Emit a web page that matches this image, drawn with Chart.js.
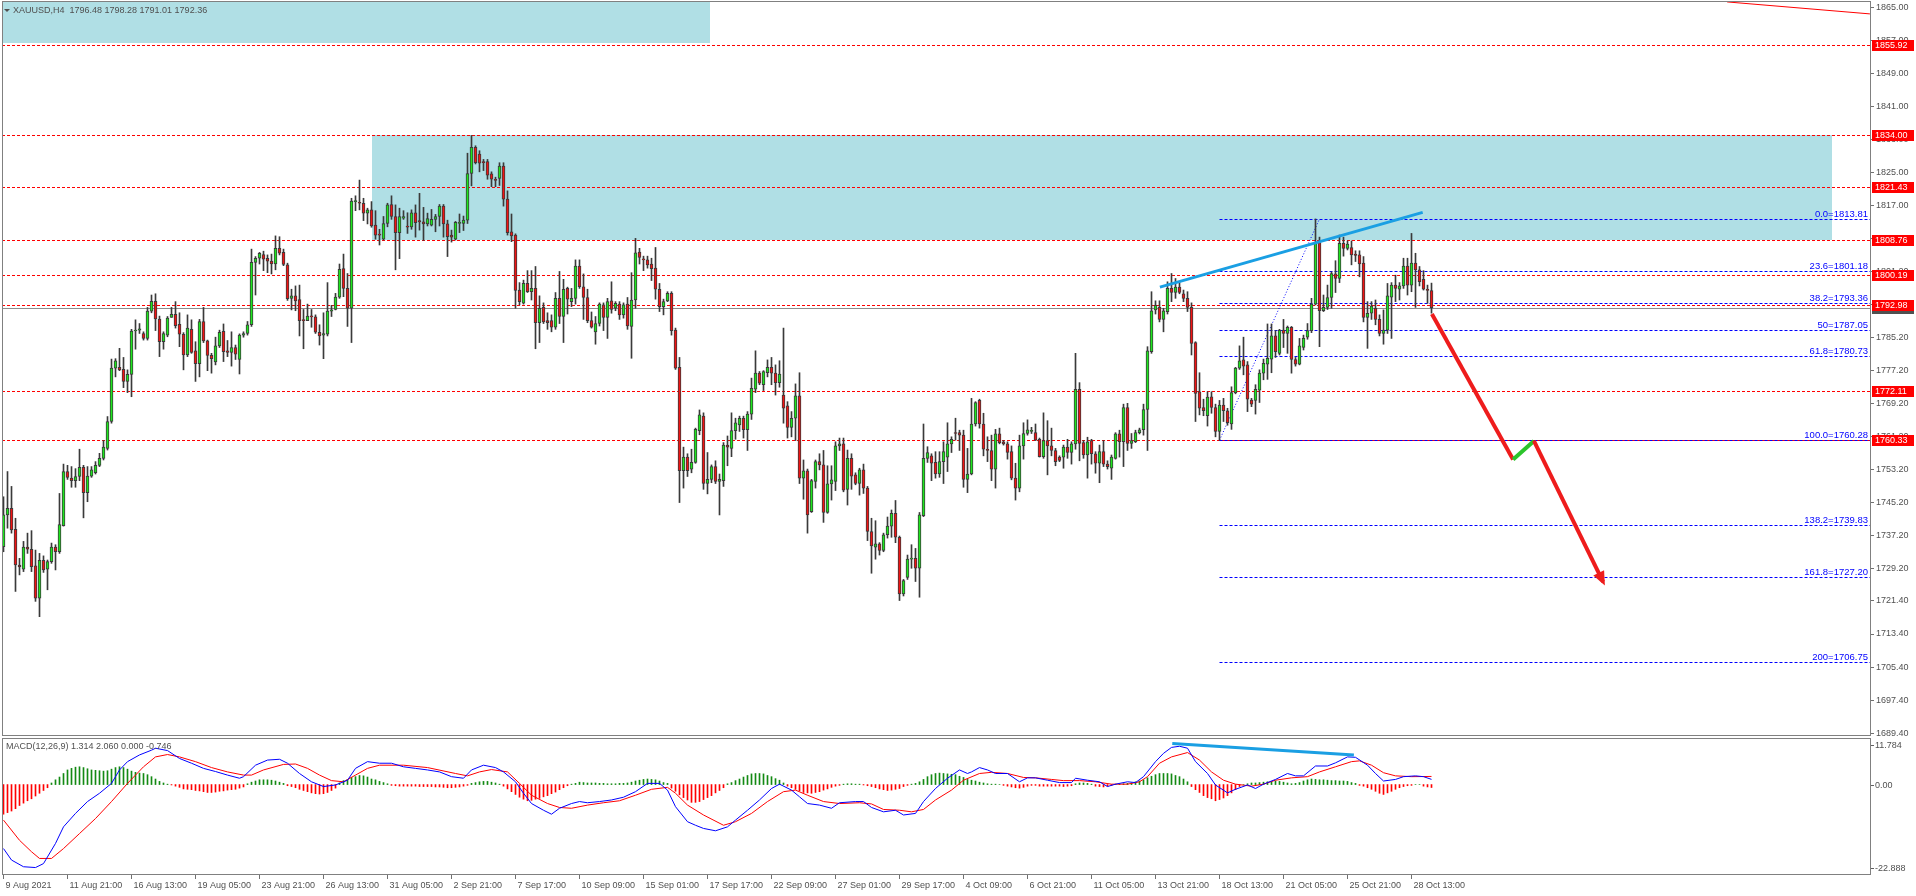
<!DOCTYPE html>
<html>
<head>
<meta charset="utf-8">
<title>XAUUSD,H4</title>
<script src="https://cdn.jsdelivr.net/npm/chart.js@4.4.1/dist/chart.umd.min.js"></script>
<style>
  html, body { margin: 0; padding: 0; background: #fff; overflow: hidden; }
  #wrap { position: relative; width: 1916px; height: 896px; }
  canvas { position: absolute; left: 0; }
  #main { top: 0; }
  #macd { top: 738px; }
</style>
</head>
<body>
<div id="wrap">
  <canvas id="main" width="1916" height="738"></canvas>
  <canvas id="macd" width="1916" height="158"></canvas>
</div>
<script>
// XAUUSD H4 candles + MACD(12,26,9)

// ---------- Data: candles (one per H4 bar, index 0 = 9 Aug 2021) ----------
const opens = [
  1734.5,1742.2,1743.8,1738.7,1730.1,1729.1,1734.4,1733.9,1729.9,1722.1,
  1731.2,1729.1,1730.9,1734.4,1733.3,1739.6,1752.7,1751.1,1750.5,1751.5,
  1753.7,1747.6,1751.6,1752.4,1754.2,1755.9,1758.3,1764.8,1777.7,1777.9,
  1777.4,1774.5,1776.2,1786.7,1786.9,1786.1,1784.9,1791.5,1793.9,1789.6,
  1784.1,1785.7,1790.0,1790.7,1788.3,1785.9,1780.9,1787.1,1781.9,1778.8,
  1789.0,1784.3,1780.8,1779.2,1783.1,1786.6,1781.9,1781.5,1782.7,1779.8,
  1785.7,1786.1,1788.2,1803.3,1804.3,1805.2,1804.3,1803.6,1802.9,1806.7,
  1805.7,1802.7,1794.6,1795.2,1794.3,1789.4,1789.2,1790.3,1790.1,1786.4,
  1785.7,1785.9,1791.5,1791.9,1794.9,1801.8,1797.0,1792.2,1818.0,1817.7,
  1817.6,1815.2,1816.0,1812.3,1810.1,1808.9,1812.7,1817.3,1814.4,1810.5,
  1814.0,1812.1,1811.9,1815.3,1813.4,1813.1,1812.6,1812.3,1813.7,1814.4,
  1816.9,1812.6,1809.9,1808.9,1812.7,1812.7,1813.5,1824.8,1831.1,1829.5,
  1827.7,1827.7,1824.7,1823.4,1823.6,1826.6,1818.6,1810.7,1809.9,1796.6,
  1793.4,1798.2,1796.2,1797.0,1788.7,1792.4,1789.2,1789.2,1787.6,1794.6,
  1790.2,1797.0,1793.8,1794.6,1802.4,1797.4,1794.8,1789.2,1786.5,1788.5,
  1793.0,1790.0,1794.0,1792.2,1793.2,1790.6,1793.2,1787.8,1794.2,1805.8,
  1804.0,1803.9,1802.9,1801.9,1796.8,1792.6,1794.0,1795.8,1786.9,1777.9,
  1752.9,1756.2,1753.3,1754.9,1762.6,1766.1,1749.8,1750.8,1753.9,1750.3,
  1750.5,1759.1,1758.3,1762.6,1764.0,1765.6,1762.8,1766.6,1772.6,1776.5,
  1773.7,1776.6,1777.9,1776.5,1774.2,1771.2,1768.6,1763.4,1765.6,1771.0,
  1751.1,1752.9,1743.0,1750.3,1755.1,1754.3,1742.8,1749.7,1750.3,1758.9,
  1759.4,1748.4,1755.9,1751.9,1749.8,1753.1,1748.7,1738.2,1734.4,1735.2,
  1733.6,1737.4,1739.5,1742.6,1736.8,1723.1,1727.1,1731.5,1731.7,1729.3,
  1742.0,1755.9,1756.5,1754.9,1752.1,1755.1,1756.2,1759.4,1762.1,1762.1,
  1761.5,1750.8,1752.1,1764.2,1769.9,1764.2,1758.1,1757.8,1753.3,1761.8,
  1759.9,1759.4,1757.5,1751.1,1748.7,1758.9,1761.9,1762.4,1762.1,1760.5,
  1756.3,1760.2,1758.9,1757.8,1756.2,1756.2,1758.6,1757.3,1759.4,1772.6,
  1759.7,1756.7,1760.2,1757.0,1754.7,1757.5,1754.5,1753.5,1755.9,1761.8,
  1759.9,1768.2,1759.5,1759.9,1762.1,1762.8,1767.7,1781.7,1791.8,1792.4,
  1789.5,1791.4,1797.0,1796.0,1797.3,1795.7,1794.6,1792.4,1783.9,1772.0,
  1768.2,1766.2,1770.8,1768.2,1762.4,1768.8,1767.4,1764.2,1771.8,1777.7,
  1779.7,1778.5,1770.0,1769.9,1772.4,1776.5,1778.7,1779.9,1785.5,1781.3,
  1786.9,1786.1,1787.6,1779.8,1778.7,1782.7,1785.2,1786.8,1793.2,1808.1,
  1791.6,1792.4,1794.8,1800.5,1799.4,1807.9,1806.7,1806.9,1805.3,1805.1,
  1803.1,1790.0,1791.0,1792.2,1789.5,1786.1,1786.9,1794.9,1797.8,1796.8,
  1797.6,1802.4,1797.8,1803.1,1801.5,1799.2,1796.8,1796.48
];
const highs = [
  1746.6,1752.7,1749.1,1741.4,1731.7,1735.8,1737.8,1738.4,1733.7,1732.9,
  1732.3,1731.3,1735.4,1735.0,1747.4,1754.5,1754.2,1753.9,1753.4,1758.1,
  1754.2,1753.9,1753.9,1755.1,1757.1,1760.2,1766.0,1779.9,1780.0,1782.5,
  1780.3,1777.3,1787.1,1789.4,1788.5,1786.5,1792.4,1795.4,1795.7,1790.3,
  1786.5,1790.2,1792.4,1793.8,1791.1,1786.3,1790.6,1789.4,1784.1,1789.5,
  1792.4,1784.5,1781.3,1785.2,1786.9,1788.4,1784.4,1786.5,1783.3,1786.0,
  1786.5,1789.0,1806.5,1804.7,1805.7,1806.0,1805.1,1805.3,1809.7,1809.5,
  1806.5,1803.1,1796.8,1797.6,1797.8,1791.9,1793.2,1791.9,1790.6,1788.2,
  1791.1,1798.4,1792.9,1795.8,1802.9,1805.3,1800.6,1818.8,1819.4,1823.2,
  1818.8,1816.4,1818.0,1815.8,1811.3,1814.4,1817.6,1819.4,1817.2,1816.4,
  1815.8,1815.3,1816.0,1817.2,1820.0,1816.6,1815.2,1816.1,1814.9,1817.3,
  1817.3,1813.5,1811.1,1813.2,1815.0,1814.5,1829.7,1834.0,1831.5,1830.3,
  1828.2,1828.2,1825.2,1823.9,1827.4,1827.4,1820.6,1815.0,1810.2,1798.4,
  1799.0,1801.3,1801.3,1802.3,1795.2,1793.5,1791.1,1790.6,1796.0,1801.1,
  1799.2,1797.3,1797.0,1803.9,1803.9,1800.5,1796.8,1791.3,1790.2,1793.5,
  1793.5,1794.6,1798.6,1793.8,1793.8,1793.5,1794.8,1800.8,1809.1,1806.7,
  1804.8,1804.8,1804.3,1806.9,1798.2,1794.4,1796.2,1796.2,1787.4,1780.3,
  1758.6,1757.0,1758.1,1763.2,1767.6,1766.9,1757.3,1754.3,1755.3,1752.1,
  1759.7,1761.3,1766.9,1765.6,1766.1,1766.1,1767.2,1775.3,1781.9,1776.9,
  1777.1,1779.7,1780.3,1778.5,1779.5,1787.4,1769.6,1767.2,1773.9,1776.6,
  1755.5,1753.3,1750.8,1755.5,1757.0,1757.8,1754.1,1754.1,1759.9,1760.8,
  1760.8,1757.9,1757.0,1752.4,1753.5,1754.5,1749.1,1741.4,1740.8,1735.5,
  1737.8,1741.7,1743.4,1745.7,1737.1,1726.6,1732.5,1735.0,1734.1,1742.8,
  1764.2,1758.7,1757.0,1757.5,1757.5,1759.9,1764.5,1761.1,1765.6,1762.7,
  1762.7,1758.3,1770.4,1769.6,1770.2,1766.8,1761.1,1761.5,1762.9,1763.2,
  1760.2,1759.9,1758.9,1754.7,1761.5,1764.5,1765.2,1763.4,1764.2,1760.8,
  1766.9,1765.0,1763.2,1758.3,1756.5,1759.1,1760.5,1759.9,1781.3,1774.2,
  1760.2,1761.0,1760.5,1757.5,1759.1,1760.2,1755.3,1756.7,1762.1,1762.7,
  1769.0,1769.2,1761.9,1762.7,1763.2,1769.0,1782.9,1796.2,1794.0,1794.0,
  1792.2,1798.6,1800.6,1799.4,1798.4,1796.6,1796.2,1793.5,1784.1,1776.6,
  1770.2,1772.0,1772.0,1769.0,1769.9,1770.4,1768.0,1773.2,1777.9,1783.1,
  1785.2,1779.3,1770.4,1773.7,1777.3,1779.9,1788.4,1788.4,1786.8,1787.1,
  1789.5,1787.9,1787.8,1780.3,1784.9,1785.7,1788.5,1794.6,1813.8,1809.4,
  1795.4,1797.8,1801.0,1803.7,1809.9,1809.4,1808.5,1808.5,1806.1,1806.1,
  1804.7,1793.8,1793.8,1794.2,1790.6,1791.8,1798.2,1798.4,1800.2,1798.4,
  1804.3,1804.3,1810.3,1805.5,1802.3,1801.3,1797.8,1798.28
];
const lows = [
  1733.3,1739.0,1737.8,1723.7,1727.7,1728.5,1732.9,1728.5,1721.3,1717.6,
  1728.3,1724.1,1730.5,1728.9,1732.9,1739.5,1750.8,1748.9,1748.9,1750.5,
  1741.5,1745.4,1751.3,1752.1,1753.9,1755.5,1757.9,1764.4,1775.6,1777.1,
  1773.0,1771.8,1770.8,1782.3,1786.1,1784.5,1784.5,1791.1,1786.8,1780.5,
  1782.3,1785.3,1790.0,1787.4,1782.9,1777.3,1780.5,1781.3,1774.5,1775.6,
  1783.9,1777.1,1776.5,1778.5,1782.7,1779.3,1780.5,1778.2,1779.8,1776.3,
  1785.2,1785.7,1787.8,1795.4,1802.9,1801.3,1800.8,1800.5,1801.5,1805.1,
  1802.5,1794.1,1791.8,1791.6,1785.5,1782.4,1789.2,1787.6,1786.1,1783.3,
  1780.0,1785.5,1790.2,1791.8,1794.6,1795.0,1787.8,1783.9,1815.8,1816.0,
  1813.4,1812.6,1811.8,1808.9,1807.5,1808.7,1811.9,1813.7,1801.5,1804.2,
  1813.7,1810.3,1811.3,1809.4,1811.1,1808.6,1812.1,1812.1,1810.7,1812.1,
  1809.4,1804.7,1808.2,1808.7,1810.5,1811.0,1812.7,1821.8,1827.1,1825.2,
  1825.5,1823.4,1821.6,1821.6,1821.9,1816.9,1809.9,1808.3,1792.2,1793.0,
  1793.2,1796.0,1794.2,1782.4,1783.9,1788.5,1787.1,1786.5,1787.1,1788.5,
  1783.9,1790.8,1792.6,1793.2,1797.0,1789.5,1788.7,1787.4,1783.5,1787.9,
  1786.8,1784.9,1791.0,1791.6,1789.5,1789.8,1787.1,1780.1,1792.2,1802.9,
  1801.3,1801.9,1798.9,1794.4,1791.4,1790.6,1793.8,1785.7,1777.4,1745.2,
  1748.7,1751.5,1752.4,1754.7,1761.6,1748.4,1747.3,1750.0,1749.8,1742.2,
  1749.1,1754.1,1756.3,1760.5,1762.4,1760.8,1757.8,1765.3,1771.8,1773.7,
  1772.3,1775.6,1773.7,1771.2,1773.1,1764.4,1760.8,1761.1,1760.2,1749.8,
  1746.0,1737.8,1742.8,1748.7,1753.1,1740.4,1742.6,1745.8,1748.1,1757.8,
  1747.8,1744.6,1748.4,1749.5,1747.0,1747.4,1736.0,1728.1,1731.5,1732.5,
  1733.3,1736.6,1736.8,1735.5,1721.5,1722.6,1726.6,1729.3,1726.1,1722.3,
  1741.8,1754.9,1750.5,1751.1,1751.3,1749.8,1752.7,1757.3,1760.3,1757.8,
  1748.9,1747.6,1751.9,1763.7,1763.2,1756.5,1755.1,1750.5,1748.7,1759.4,
  1759.1,1755.7,1750.7,1745.8,1747.8,1755.7,1761.5,1761.9,1760.2,1756.2,
  1755.9,1751.9,1756.5,1754.1,1755.1,1753.5,1755.9,1754.5,1758.1,1755.3,
  1755.9,1751.1,1754.5,1752.3,1750.0,1753.9,1753.3,1750.8,1755.7,1756.2,
  1753.9,1757.8,1758.3,1759.7,1761.8,1761.5,1757.8,1781.3,1790.8,1788.9,
  1786.5,1790.8,1793.8,1794.6,1795.7,1793.8,1791.4,1780.9,1764.8,1766.4,
  1766.2,1763.7,1766.8,1761.1,1760.3,1764.8,1763.9,1762.9,1771.5,1777.4,
  1776.1,1767.2,1768.4,1766.6,1769.4,1774.9,1775.0,1776.6,1780.3,1780.9,
  1782.7,1781.3,1776.5,1778.2,1778.5,1782.1,1784.7,1786.3,1793.0,1782.9,
  1791.4,1791.9,1792.2,1796.0,1798.4,1804.8,1806.3,1802.7,1803.5,1799.8,
  1788.9,1782.5,1789.5,1788.2,1785.5,1783.5,1786.1,1784.9,1793.8,1794.2,
  1797.0,1795.4,1796.2,1792.4,1797.6,1796.6,1793.4,1791.01
];
const closes = [
  1742.2,1743.8,1738.6,1730.1,1729.6,1734.4,1733.9,1729.7,1722.1,1731.2,
  1728.9,1730.9,1734.4,1733.3,1739.9,1752.7,1751.3,1750.5,1751.5,1753.7,
  1747.6,1751.6,1753.1,1754.2,1755.9,1758.6,1764.8,1777.7,1779.5,1777.3,
  1774.5,1776.2,1786.7,1786.9,1787.2,1784.9,1791.5,1793.9,1789.6,1784.1,
  1786.1,1789.8,1790.7,1788.0,1785.9,1780.9,1787.4,1781.5,1778.8,1789.0,
  1784.3,1780.8,1780.0,1783.1,1786.4,1781.7,1781.5,1782.7,1781.1,1785.7,
  1786.1,1788.2,1803.3,1804.3,1805.5,1804.1,1803.6,1802.9,1806.7,1805.5,
  1802.8,1794.5,1795.2,1794.0,1789.2,1789.2,1790.3,1790.1,1786.4,1785.5,
  1786.1,1791.5,1791.8,1794.9,1801.6,1797.0,1792.2,1818.1,1818.2,1817.6,
  1815.2,1816.0,1812.1,1809.9,1809.9,1812.7,1817.2,1814.4,1810.5,1814.4,
  1814.4,1811.8,1815.3,1812.9,1813.1,1812.6,1813.9,1813.7,1814.4,1816.9,
  1812.6,1809.5,1809.4,1813.0,1813.0,1813.5,1824.8,1831.1,1827.4,1827.3,
  1827.4,1824.4,1823.4,1823.1,1826.6,1818.6,1810.5,1809.7,1796.5,1793.8,
  1798.2,1796.2,1797.0,1788.7,1792.2,1788.9,1788.7,1787.6,1794.6,1790.2,
  1796.8,1794.4,1794.6,1802.4,1797.4,1794.8,1789.2,1787.6,1788.5,1793.2,
  1790.0,1793.8,1791.9,1793.4,1790.6,1793.0,1787.9,1794.2,1805.6,1804.5,
  1803.9,1802.7,1801.8,1796.8,1792.6,1793.8,1795.8,1786.8,1777.7,1752.9,
  1756.2,1752.9,1754.9,1762.9,1766.4,1749.8,1750.8,1753.9,1750.3,1750.8,
  1759.1,1758.6,1762.6,1764.5,1765.6,1762.8,1766.6,1772.8,1776.5,1774.1,
  1776.9,1777.9,1776.5,1774.2,1776.3,1768.0,1763.4,1765.6,1771.0,1751.1,
  1752.9,1742.2,1750.5,1755.1,1754.3,1742.8,1749.7,1750.7,1758.9,1759.4,
  1748.2,1755.9,1751.6,1749.8,1753.1,1748.7,1738.2,1734.7,1735.2,1733.6,
  1737.4,1739.5,1742.6,1736.8,1723.1,1726.3,1731.5,1731.7,1729.3,1742.2,
  1755.9,1757.3,1754.7,1752.1,1755.1,1757.5,1759.4,1760.5,1761.9,1761.5,
  1750.8,1752.1,1764.2,1769.4,1764.2,1758.1,1757.8,1753.3,1761.8,1759.7,
  1759.4,1757.3,1751.1,1748.7,1758.9,1761.9,1762.8,1762.6,1760.3,1756.3,
  1760.2,1758.9,1757.8,1755.1,1755.4,1758.6,1757.3,1759.4,1772.6,1759.5,
  1756.7,1759.9,1757.0,1754.7,1757.5,1754.5,1753.9,1756.2,1761.8,1759.9,
  1768.2,1759.5,1760.2,1762.1,1762.8,1767.7,1781.9,1791.6,1792.9,1789.5,
  1791.6,1797.0,1796.0,1797.3,1796.0,1794.6,1792.4,1783.7,1771.6,1768.0,
  1767.4,1770.7,1768.2,1762.4,1768.8,1767.4,1764.5,1771.8,1777.7,1779.5,
  1778.2,1770.2,1769.0,1772.6,1776.5,1778.9,1780.1,1785.5,1781.7,1786.9,
  1786.1,1787.6,1779.8,1778.7,1783.1,1784.9,1786.8,1793.2,1807.9,1791.6,
  1792.4,1794.8,1800.6,1799.4,1807.9,1806.7,1807.7,1805.1,1805.0,1802.9,
  1790.0,1791.0,1792.7,1789.5,1786.1,1786.9,1795.2,1797.8,1797.0,1797.6,
  1802.4,1797.8,1803.1,1801.5,1798.6,1796.8,1796.5,1792.36
];

// ---------- Data: MACD(12,26,9) ----------
const macdX = [0,2,5,8,10,13,15,18,21,24,27,29,31,34,37,38,41,44,47,50,53,56,59,60,63,66,69,71,74,77,
  80,83,86,88,91,94,97,100,103,106,109,112,115,117,120,123,125,128,130,132,135,137,139,142,144,146,149,152,155,158,
  161,164,166,168,171,173,175,178,181,183,186,189,192,194,197,199,201,204,207,209,213,215,217,220,223,225,228,230,233,236,
  239,241,242,244,246,248,251,254,256,258,261,264,267,268,271,274,276,278,281,283,285,288,290,292,294,296,298,301,303,306,
  308,311,313,315,318,321,323,325,328,331,333,336,338,341,343,345,348,350,353,355,357];
const macdY = [-16.2,-19.1,-20.8,-21.0,-20.0,-14.9,-10.7,-7.3,-4.3,-2.2,0.3,3.7,5.8,7.5,8.7,9.2,8.6,6.6,5.4,4.1,3.3,2.4,1.6,2.0,4.9,6.2,6.4,5.4,2.8,0.7,
  -0.5,-0.1,1.1,4.1,5.8,5.4,5.4,4.5,4.1,3.7,3.2,2.0,1.6,3.7,4.9,4.3,3.2,0.7,-2.2,-4.8,-6.5,-7.5,-6.0,-4.8,-4.3,-4.6,-4.3,-3.9,-3.2,-1.8,
  0.3,0.3,-1.4,-5.6,-9.4,-10.3,-11.1,-11.7,-10.7,-9.0,-6.5,-3.9,-1.0,0.1,-1.4,-3.1,-4.8,-5.2,-6.0,-4.6,-4.3,-4.3,-5.8,-6.9,-6.5,-7.7,-7.3,-4.3,-1.0,1.6,
  3.7,2.8,3.2,4.3,3.7,2.8,2.8,0.7,1.7,1.7,1.1,0.5,0.5,1.6,1.1,0.7,-0.5,0.1,0.7,0.5,2.0,5.8,7.9,9.4,9.7,9.2,5.8,2.8,-0.1,-2.1,
  -1.2,-0.1,-1.0,0.1,1.3,2.8,2.2,2.2,4.7,4.7,5.5,7.0,6.9,4.9,2.8,0.9,1.3,2.0,2.2,2.0,1.314];
const signalX = [0,4,7,9,12,15,19,23,27,31,35,38,41,44,48,52,56,60,62,65,70,73,76,79,82,85,88,91,94,100,
  106,113,116,119,122,126,129,132,136,139,142,146,150,154,158,162,166,168,171,175,180,183,187,191,195,198,201,205,209,214,
  217,220,224,227,230,233,237,240,244,247,251,255,258,262,265,269,273,277,281,284,286,289,292,296,299,302,305,308,312,315,
  318,322,326,329,333,337,339,342,345,348,352,357];
const signalY = [-9.0,-14.1,-17.0,-18.7,-18.7,-16.2,-12.4,-8.6,-4.3,0.3,4.5,7.0,7.6,7.0,5.8,4.3,3.2,2.4,2.4,3.7,5.1,5.2,4.1,2.4,1.0,0.7,2.4,4.1,4.9,4.9,
  4.3,2.8,2.2,3.2,3.8,3.2,0.3,-2.7,-4.8,-5.8,-6.0,-5.2,-4.6,-4.1,-2.7,-1.2,-0.7,-2.2,-5.2,-7.7,-10.3,-9.4,-7.3,-4.3,-1.8,-1.4,-2.7,-4.3,-4.8,-4.6,
  -4.9,-6.3,-6.5,-6.9,-6.3,-3.9,-1.4,1.1,2.8,3.1,2.8,1.8,1.7,1.3,1.0,1.0,0.7,0.1,0.1,0.7,2.0,5.4,7.0,8.1,6.2,3.2,1.1,0.1,-0.4,0.1,
  1.1,1.7,2.0,3.2,4.5,5.8,6.0,4.9,3.0,2.2,2.0,2.06];
// histogram, one value per candle
const histY = [
  -7.5,-7.1,-6.7,-6.1,-5.3,-4.7,-4.1,-3.6,-2.9,-2.2,-1.5,-0.8,
  0.4,1.2,1.9,2.8,3.7,4.1,4.4,4.5,4.3,4.0,
  3.7,3.6,3.5,3.4,3.5,3.9,4.3,4.5,4.3,3.9,
  3.4,3.1,2.9,2.8,2.5,2.0,1.4,0.8,0.4,0.1,
  -0.1,-0.4,-0.7,
  -1.1,-1.2,-1.3,-1.5,-1.6,-1.8,-2.0,-2.0,-1.9,-1.7,-1.6,-1.4,-1.3,-1.2,-0.9,-0.6,
  0.2,0.6,0.9,1.2,1.2,1.2,1.1,0.9,0.6,0.3,
  -0.3,-0.5,-0.8,-1.2,-1.5,-1.8,-2.1,-2.3,-2.4,-2.3,-2.0,-1.5,-0.9,
  0.4,1.0,1.3,1.8,2.0,2.3,2.2,1.9,1.4,1.2,0.8,0.5,0.2,
  -0.2,-0.3,-0.4,-0.4,-0.4,-0.4,-0.4,-0.5,-0.5,-0.5,-0.5,-0.6,-0.6,-0.7,-0.8,-0.8,-0.7,-0.6,-0.4,-0.2,
  0.3,0.5,0.7,0.8,0.8,0.6,0.4,0.1,
  -0.4,-1.1,-1.8,-2.5,-3.2,-3.7,-4.1,-4.0,-3.7,-3.5,-3.1,-2.8,-2.3,-1.9,-1.3,-0.8,
  -0.3,0.1,0.3,
  0.6,0.5,0.4,0.4,0.4,0.3,0.3,0.2,0.2,0.2,0.3,0.3,0.4,0.6,0.9,1.1,1.3,1.4,1.3,1.2,0.9,0.5,0.3,
  -0.9,-1.7,-2.6,-3.3,-3.9,-4.5,-4.5,-4.3,-3.8,-3.3,-2.8,-2.1,-1.5,-0.8,
  0.2,0.5,1.0,1.4,1.9,2.3,2.7,2.8,2.8,2.7,2.3,2.0,1.5,1.1,0.4,
  -0.4,-0.8,-1.2,-1.6,-2.0,-2.1,-2.2,-2.0,-1.8,-1.4,-1.1,-0.7,
  -0.4,-0.2,0.1,0.2,0.2,0.1,0.1,-0.1,-0.3,
  -0.5,-0.8,-1.1,-1.3,-1.5,-1.4,-1.2,-1.0,-0.5,
  -0.2,0.1,0.3,0.7,
  1.3,2.0,2.5,2.8,2.9,2.8,2.7,2.6,2.5,2.1,1.8,1.3,1.1,0.9,0.6,0.4,
  0.2,0.1,0.1,0.0,-0.2,-0.4,
  -0.6,-0.8,-0.9,-0.7,-0.4,
  -0.2,-0.2,
  -0.4,-0.4,-0.4,-0.4,-0.4,-0.4,-0.5,-0.4,-0.3,
  0.2,0.4,0.4,0.3,0.1,
  -0.4,-0.5,-0.6,-0.4,
  -0.2,0.1,0.1,0.2,0.3,
  0.4,0.7,0.9,1.2,1.7,2.1,2.5,2.8,2.8,2.8,2.7,2.3,2.0,1.4,0.7,
  -0.5,-1.3,-2.0,-2.8,-3.3,-3.6,-4.1,-3.8,-3.4,-2.8,-2.1,-1.3,
  -0.5,0.0,0.2,0.4,0.4,0.5,0.6,0.7,0.8,0.9,
  0.8,0.6,0.4,0.2,0.3,0.5,0.9,1.2,1.4,1.3,
  1.2,1.2,1.1,1.0,1.0,0.9,0.9,0.8,0.5,0.3,
  -0.2,-0.4,-0.8,-1.2,-1.7,-2.2,-2.5,-2.1,-1.7,-1.2,-0.8,-0.5,-0.3,
  -0.2,0.0,0.0,-0.4,-0.6,-0.746
];

// ---------- Data: axis labels ----------
const timeLabels = ['9 Aug 2021','11 Aug 21:00','16 Aug 13:00','19 Aug 05:00','23 Aug 21:00','26 Aug 13:00',
  '31 Aug 05:00','2 Sep 21:00','7 Sep 17:00','10 Sep 09:00','15 Sep 01:00','17 Sep 17:00','22 Sep 09:00',
  '27 Sep 01:00','29 Sep 17:00','4 Oct 09:00','6 Oct 21:00','11 Oct 05:00','13 Oct 21:00','18 Oct 13:00',
  '21 Oct 05:00','25 Oct 21:00','28 Oct 13:00'];
const BARS_PER_LABEL = 16;
const priceTicks = [1865.00,1857.00,1849.00,1841.00,1833.00,1825.00,1817.00,1809.00,1801.20,1793.20,1785.20,
  1777.20,1769.20,1761.20,1753.20,1745.20,1737.20,1729.20,1721.40,1713.40,1705.40,1697.40,1689.40];
const macdTicks = [11.784, 0, -22.888];

// ---------- Data: drawn objects ----------
const levels = [1855.92, 1834.00, 1821.43, 1808.76, 1800.19, 1792.98, 1772.11, 1760.33];
const bid = 1792.36;
const zones = [
  { from: -1, to: 176.5, top: 1870, bottom: 1856.4 },
  { from: 92, to: 457.1, top: 1834.0, bottom: 1808.76 }
];
const fibStart = 304;
const fibPrices = [1813.81, 1801.18, 1793.36, 1787.05, 1780.73, 1760.28, 1739.83, 1727.20, 1706.75];
const fibNames = ['0.0', '23.6', '38.2', '50', '61.8', '100.0', '138.2', '161.8', '200'];
const fibSwing = [{ x: 304, y: 1760.28 }, { x: 329, y: 1813.81 }];
const trendPrice = [{ x: 289.1, y: 1797.3 }, { x: 354.8, y: 1815.4 }];
const trendTop = [{ x: 430.9, y: 1866.3 }, { x: 466.6, y: 1863.4 }];
const forecast = [{ x: 357.1, y: 1790.8 }, { x: 377.4, y: 1755.6 }, { x: 382.6, y: 1760.1 }, { x: 399.9, y: 1726.0 }];
const trendMacd = [{ x: 292.2, y: 10.4 }, { x: 337.6, y: 7.5 }];

// ---------- Look ----------
const FONT = '"Liberation Sans", Arial, sans-serif';
const TXT = '#505050';
const FRAME = '#808080';
const BULL = '#1ee61e', BEAR = '#f01414', OUTLINE = '#3a3a3a';
const ZONE = '#b0dfe5';
const TREND_BLUE = '#1a9fe3';
const X_MIN = -0.375, X_MAX = 466.625;
const Y_MAX = 1866.52, Y_MIN = 1688.73;

// ---------- Helpers ----------
function seg(ctx, x, y, a, b) {
    ctx.beginPath();
    ctx.moveTo(x.getPixelForValue(a.x), y.getPixelForValue(a.y));
    ctx.lineTo(x.getPixelForValue(b.x), y.getPixelForValue(b.y));
    ctx.stroke();
}

function hLine(ctx, x0, x1, yy) {
    const py = Math.round(yy) + 0.5;
    ctx.beginPath(); ctx.moveTo(x0, py); ctx.lineTo(x1, py); ctx.stroke();
}

function frame(ctx, a) {
    ctx.save();
    ctx.strokeStyle = FRAME; ctx.lineWidth = 1; ctx.setLineDash([]);
    ctx.strokeRect(a.left + 0.5, a.top + 0.5, a.width, a.height - 1);
    ctx.restore();
}

function flatAxis(s, w) { s.width = w; s.paddingTop = 0; s.paddingBottom = 0; }

// ---------- Main chart decorations ----------
const mainDecor = {
    id: 'mainDecor',
    beforeDatasetsDraw(chart) {
        const { ctx, chartArea: a, scales: { x, y } } = chart;
        ctx.save();
        ctx.beginPath(); ctx.rect(a.left, a.top, a.width, a.height); ctx.clip();

        ctx.fillStyle = ZONE;
        zones.forEach(z => {
            const x0 = Math.round(x.getPixelForValue(z.from)), x1 = Math.round(x.getPixelForValue(z.to));
            const y0 = Math.round(y.getPixelForValue(z.top)), y1 = Math.round(y.getPixelForValue(z.bottom));
            ctx.fillRect(x0, y0, x1 - x0, y1 - y0);
        });

        ctx.lineWidth = 1;
        ctx.strokeStyle = '#8c8c8c';
        hLine(ctx, a.left, a.right, y.getPixelForValue(bid));

        ctx.setLineDash([3, 2]);
        ctx.strokeStyle = '#ff0000';
        levels.forEach(l => hLine(ctx, a.left, a.right, y.getPixelForValue(l)));

        const fx = x.getPixelForValue(fibStart);
        ctx.strokeStyle = '#0000ff';
        ctx.fillStyle = '#0000ff';
        ctx.font = '9.5px ' + FONT;
        ctx.textAlign = 'right';
        ctx.textBaseline = 'bottom';
        fibPrices.forEach((p, k) => {
            const yy = y.getPixelForValue(p);
            hLine(ctx, fx, a.right, yy);
            ctx.fillText(fibNames[k] + '=' + p.toFixed(2), a.right - 2, Math.round(yy));
        });
        ctx.setLineDash([1, 2]);
        seg(ctx, x, y, fibSwing[0], fibSwing[1]);
        ctx.restore();
    },
    afterDatasetsDraw(chart) {
        const { ctx, chartArea: a, scales: { x, y } } = chart;
        ctx.save();
        ctx.beginPath(); ctx.rect(a.left, a.top, a.width, a.height); ctx.clip();
        ctx.lineCap = 'butt';

        ctx.strokeStyle = TREND_BLUE; ctx.lineWidth = 3;
        seg(ctx, x, y, trendPrice[0], trendPrice[1]);

        ctx.strokeStyle = '#ff0000'; ctx.lineWidth = 1;
        seg(ctx, x, y, trendTop[0], trendTop[1]);

        // forecast path: down, small pullback, down to target
        ctx.lineWidth = 4;
        ctx.lineJoin = 'round';
        ctx.strokeStyle = '#ee1c1c'; seg(ctx, x, y, forecast[0], forecast[1]);
        ctx.strokeStyle = '#2bc42b'; seg(ctx, x, y, forecast[1], forecast[2]);
        ctx.strokeStyle = '#ee1c1c'; seg(ctx, x, y, forecast[2], forecast[3]);
        const ex = x.getPixelForValue(forecast[3].x), ey = y.getPixelForValue(forecast[3].y);
        const sx = x.getPixelForValue(forecast[2].x), sy = y.getPixelForValue(forecast[2].y);
        const ang = Math.atan2(ey - sy, ex - sx);
        ctx.fillStyle = '#ee1c1c';
        ctx.beginPath();
        ctx.moveTo(ex + 4 * Math.cos(ang), ey + 4 * Math.sin(ang));
        ctx.lineTo(ex - 10 * Math.cos(ang) + 6 * Math.sin(ang), ey - 10 * Math.sin(ang) - 6 * Math.cos(ang));
        ctx.lineTo(ex - 10 * Math.cos(ang) - 6 * Math.sin(ang), ey - 10 * Math.sin(ang) + 6 * Math.cos(ang));
        ctx.closePath();
        ctx.fill();
        ctx.restore();
    },
    afterDraw(chart) {
        const { ctx, chartArea: a, scales: { y } } = chart;
        frame(ctx, a);
        ctx.save();
        ctx.font = '9px ' + FONT;
        ctx.textAlign = 'left';
        ctx.textBaseline = 'middle';
        const boxX = a.right + 2, boxW = 42;

        let yy = Math.round(y.getPixelForValue(bid));
        ctx.fillStyle = '#505050';
        ctx.fillRect(boxX, yy - 5, boxW, 11);
        ctx.fillStyle = '#ffffff';
        ctx.fillText(bid.toFixed(2), boxX + 3, yy + 0.5);

        levels.forEach(l => {
            yy = Math.round(y.getPixelForValue(l));
            ctx.fillStyle = '#ff0000';
            ctx.fillRect(boxX, yy - 5, boxW, 11);
            ctx.fillStyle = '#ffffff';
            ctx.fillText(l.toFixed(2), boxX + 3, yy + 0.5);
        });

        // header
        ctx.fillStyle = '#505050';
        ctx.beginPath(); ctx.moveTo(4, 9); ctx.lineTo(10, 9); ctx.lineTo(7, 12); ctx.closePath(); ctx.fill();
        ctx.fillStyle = TXT;
        ctx.fillText('XAUUSD,H4  1796.48 1798.28 1791.01 1792.36', 13, 11);
        ctx.restore();
    }
};

// ---------- MACD decorations ----------
const macdDecor = {
    id: 'macdDecor',
    afterDatasetsDraw(chart) {
        const { ctx, chartArea: a, scales: { x, y } } = chart;
        ctx.save();
        ctx.beginPath(); ctx.rect(a.left, a.top, a.width, a.height); ctx.clip();
        ctx.strokeStyle = TREND_BLUE; ctx.lineWidth = 3;
        seg(ctx, x, y, trendMacd[0], trendMacd[1]);
        ctx.restore();
    },
    afterDraw(chart) {
        const { ctx, chartArea: a, scales: { y } } = chart;
        frame(ctx, a);
        ctx.save();
        ctx.font = '9px ' + FONT;
        ctx.fillStyle = TXT;
        ctx.strokeStyle = '#606060';
        ctx.textAlign = 'left';
        ctx.textBaseline = 'middle';
        // top / bottom labels sit just inside the window, like the terminal does
        const pos = [a.top + 7, Math.round(y.getPixelForValue(0)), a.bottom - 7];
        macdTicks.forEach((v, k) => {
            const yy = pos[k];
            hLine(ctx, a.right + 1, a.right + 4, yy);
            ctx.fillText(v === 0 ? '0.00' : v.toFixed(3), a.right + 5, yy + 0.5);
        });
        ctx.fillText('MACD(12,26,9) 1.314 2.060 0.000 -0.746', 6, 9);
        ctx.restore();
    }
};

// ---------- Build ----------
const bodies = closes.map((c, i) => ({ x: i, y: [opens[i], c] }));
const wicks = closes.map((c, i) => ({ x: i, y: [lows[i], highs[i]] }));
const bodyColors = closes.map((c, i) => (c >= opens[i] ? BULL : BEAR));

Chart.defaults.font.family = FONT;
Chart.defaults.color = TXT;

new Chart(document.getElementById('main'), {
    type: 'bar',
    data: {
        datasets: [
            { data: bodies, backgroundColor: bodyColors, borderColor: OUTLINE, borderWidth: 1, borderSkipped: false,
              barThickness: 3, minBarLength: 1, grouped: false, order: 1 },
            { data: wicks, backgroundColor: OUTLINE, borderWidth: 0, barThickness: 1, grouped: false, order: 2 }
        ]
    },
    options: {
        responsive: false, animation: false, devicePixelRatio: 1, events: [],
        layout: { padding: { left: 2, top: 1, right: 0, bottom: 2 } },
        plugins: { legend: { display: false }, tooltip: { enabled: false } },
        scales: {
            x: { type: 'linear', min: X_MIN, max: X_MAX, offset: false, display: false, grid: { offset: false } },
            y: {
                position: 'right', min: Y_MIN, max: Y_MAX,
                afterBuildTicks: s => { s.ticks = priceTicks.map(v => ({ value: v })); },
                afterFit: s => flatAxis(s, 46),
                ticks: { autoSkip: false, padding: 2, color: TXT, font: { size: 9 }, callback: v => v.toFixed(2) },
                grid: { drawOnChartArea: false, drawTicks: true, tickLength: 4, color: '#707070' },
                border: { display: false }
            }
        }
    },
    plugins: [mainDecor]
});

new Chart(document.getElementById('macd'), {
    type: 'bar',
    data: {
        datasets: [
            { type: 'line', data: macdX.map((v, k) => ({ x: v, y: macdY[k] })), borderColor: '#0000ff', borderWidth: 1,
              pointRadius: 0, tension: 0, order: 1 },
            { type: 'line', data: signalX.map((v, k) => ({ x: v, y: signalY[k] })), borderColor: '#ff0000', borderWidth: 1,
              pointRadius: 0, tension: 0, order: 2 },
            { data: histY.map((v, i) => ({ x: i, y: v })), backgroundColor: histY.map(v => (v >= 0 ? '#138a13' : '#ff0000')),
              barThickness: 1, grouped: false, order: 3 }
        ]
    },
    options: {
        responsive: false, animation: false, devicePixelRatio: 1, events: [],
        layout: { padding: { left: 2, top: 0, right: 0, bottom: 0 } },
        plugins: { legend: { display: false }, tooltip: { enabled: false } },
        scales: {
            x: {
                type: 'linear', min: X_MIN, max: X_MAX, offset: false,
                afterBuildTicks: s => { s.ticks = timeLabels.map((_, k) => ({ value: k * BARS_PER_LABEL })); },
                afterFit: s => { s.height = 21; s.paddingLeft = 0; s.paddingRight = 0; },
                ticks: { autoSkip: false, maxRotation: 0, align: 'start', labelOffset: 2, padding: 1, color: TXT,
                         font: { size: 9 }, callback: (v, k) => timeLabels[k] },
                grid: { drawOnChartArea: false, drawTicks: true, tickLength: 4, color: '#707070', offset: false },
                border: { display: false }
            },
            y: {
                position: 'right', min: -22.888, max: 11.784,
                afterFit: s => flatAxis(s, 46),
                ticks: { display: false },
                grid: { display: false },
                border: { display: false }
            }
        }
    },
    plugins: [macdDecor]
});
</script>
</body>
</html>
